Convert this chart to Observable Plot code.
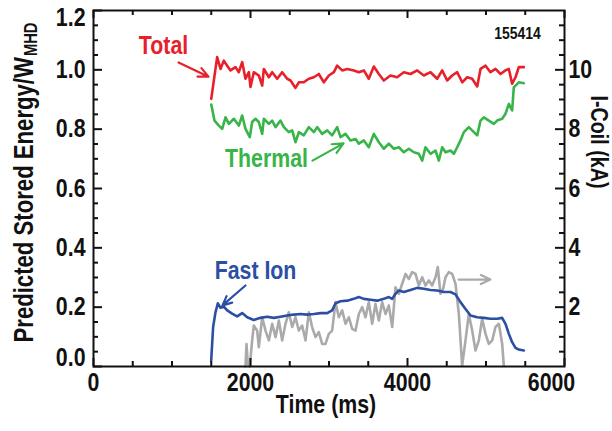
<!DOCTYPE html>
<html><head><meta charset="utf-8">
<script src="https://cdn.jsdelivr.net/npm/d3@7"></script>
<script src="https://cdn.jsdelivr.net/npm/@observablehq/plot@0.6"></script>
<style>
html,body{margin:0;padding:0;background:#fff;}
#chart svg{display:block;}
</style></head><body><div id="chart"></div>
<script>
// ---- data: [time (ms), value] ----
const total = [[1500,0.902],[1575,1.043],[1618,1.003],[1660,1.031],[1703,1.014],[1745,0.998],[1809,1.009],[1851,0.992],[1894,1.026],[1936,0.970],
[1979,0.992],[2000,0.942],[2042,0.992],[2106,0.981],[2149,0.947],[2170,1.003],[2234,0.975],[2276,0.992],[2340,0.970],[2403,0.992],
[2467,0.970],[2510,0.964],[2573,0.939],[2616,0.958],[2679,0.958],[2743,0.970],[2807,0.975],[2870,0.986],[2934,0.958],[2998,0.981],
[3062,0.992],[3104,1.014],[3168,0.998],[3232,1.003],[3316,0.998],[3380,0.992],[3444,0.998],[3507,0.970],[3571,1.011],[3635,0.986],
[3698,0.964],[3783,0.981],[3868,0.975],[3953,0.992],[4038,0.986],[4123,0.998],[4208,0.981],[4293,0.992],[4378,0.970],[4442,0.998],
[4505,0.964],[4569,0.981],[4633,0.992],[4697,0.958],[4760,0.975],[4824,0.970],[4888,0.944],[4930,1.003],[4994,1.014],[5057,0.992],
[5121,1.003],[5185,0.986],[5248,0.998],[5291,1.003],[5333,0.953],[5376,0.975],[5418,1.009],[5482,1.009]];

const thermal = [[1500,0.883],[1541,0.829],[1597,0.812],[1639,0.801],[1682,0.840],[1724,0.818],[1788,0.835],[1851,0.812],[1894,0.846],[1936,0.801],
[1991,0.773],[2021,0.824],[2064,0.835],[2106,0.824],[2149,0.784],[2170,0.835],[2234,0.818],[2276,0.829],[2319,0.807],[2382,0.829],
[2425,0.807],[2488,0.790],[2531,0.796],[2573,0.756],[2616,0.790],[2679,0.779],[2743,0.807],[2807,0.790],[2849,0.807],[2913,0.784],
[2977,0.796],[3040,0.779],[3104,0.807],[3147,0.773],[3210,0.784],[3274,0.762],[3338,0.767],[3380,0.751],[3444,0.762],[3507,0.739],
[3571,0.784],[3635,0.756],[3698,0.734],[3762,0.751],[3826,0.734],[3890,0.739],[3953,0.722],[4017,0.734],[4081,0.722],[4144,0.717],
[4187,0.694],[4229,0.739],[4293,0.717],[4357,0.728],[4399,0.694],[4442,0.739],[4484,0.722],[4548,0.728],[4590,0.717],[4633,0.739],
[4675,0.762],[4718,0.790],[4781,0.807],[4845,0.790],[4888,0.779],[4930,0.829],[4972,0.840],[5036,0.829],[5100,0.818],[5142,0.829],
[5206,0.835],[5248,0.852],[5291,0.885],[5333,0.863],[5354,0.941],[5418,0.958],[5482,0.955]];

const fastIon = [[1499,0.020],[1524,0.133],[1554,0.183],[1584,0.213],[1618,0.198],[1660,0.202],[1703,0.189],[1766,0.178],[1830,0.169],[1894,0.180],
[1958,0.166],[2042,0.157],[2127,0.164],[2212,0.168],[2297,0.164],[2382,0.168],[2467,0.172],[2552,0.175],[2637,0.177],[2722,0.175],
[2807,0.177],[2892,0.180],[2977,0.180],[3040,0.189],[3083,0.213],[3147,0.220],[3232,0.222],[3316,0.228],[3380,0.234],[3444,0.228],
[3529,0.225],[3614,0.222],[3698,0.228],[3762,0.234],[3805,0.228],[3847,0.245],[3890,0.256],[3953,0.251],[4038,0.258],[4123,0.265],
[4208,0.262],[4293,0.258],[4378,0.256],[4463,0.251],[4548,0.251],[4611,0.243],[4675,0.217],[4739,0.194],[4803,0.172],[4888,0.166],
[4972,0.164],[5057,0.161],[5142,0.161],[5206,0.164],[5248,0.144],[5291,0.110],[5333,0.082],[5376,0.063],[5418,0.057],[5482,0.054]];

// I-coil current, kA (right axis)
const iCoil = [[1936,0.0],[1949,0.76],[1966,0.09],[1991,0.0],[2021,0.88],[2042,1.38],[2085,1.21],[2106,0.65],[2149,1.66],[2191,1.21],
[2234,0.88],[2276,1.44],[2319,0.99],[2361,1.55],[2403,0.88],[2446,1.44],[2488,1.83],[2531,1.33],[2573,1.66],[2616,1.21],
[2658,1.38],[2701,0.88],[2743,1.83],[2785,1.33],[2828,0.99],[2870,1.16],[2913,0.76],[2955,0.76],[2998,1.10],[3040,1.21],
[3083,2.17],[3125,1.66],[3168,1.89],[3210,1.44],[3253,1.66],[3295,1.27],[3338,1.21],[3380,1.77],[3423,2.00],[3465,1.66],
[3507,2.17],[3550,1.44],[3592,2.11],[3635,1.55],[3677,2.17],[3720,1.77],[3762,2.06],[3805,1.33],[3847,2.67],[3890,2.45],
[3932,2.79],[3975,3.12],[4017,2.95],[4059,3.18],[4102,3.12],[4144,2.73],[4187,3.01],[4229,2.73],[4272,2.90],[4314,2.73],
[4357,3.01],[4386,3.35],[4420,2.45],[4454,2.62],[4484,3.01],[4526,3.18],[4569,3.12],[4611,2.79],[4654,1.77],[4696,0.03],
[4739,0.88],[4781,1.77],[4824,1.21],[4866,0.54],[4909,0.88],[4951,1.61],[4994,1.10],[5036,0.76],[5079,0.88],[5121,1.33],
[5164,1.44],[5206,0.76],[5227,0.03]];

// ---- ticks ----
const timeTicks = [0, 2000, 4000, 6000];
const timeMinorTicks = [500, 1000, 1500, 2500, 3000, 3500, 4500, 5000, 5500];
const energyTicks = [0, 0.2, 0.4, 0.6, 0.8, 1.0, 1.2];
const energyMinorTicks = [0.05,0.1,0.15,0.25,0.3,0.35,0.45,0.5,0.55,0.65,0.7,0.75,0.85,0.9,0.95,1.05,1.1,1.15];
const iCoilTicks = [2, 4, 6, 8, 10];
const iCoilMinorTicks = [0.5,1,1.5,2.5,3,3.5,4.5,5,5.5,6.5,7,7.5,8.5,9,9.5,10.5,11,11.5];

// ---- annotations ----
const seriesLabels = [
  {text: "Total", t: 892, v: 1.082, color: "#e8202a"},
  {text: "Thermal", t: 2204, v: 0.701, color: "#38b449"},
  {text: "Fast Ion", t: 2064, v: 0.324, color: "#2c4fa3"}
];
const arrows = [
  {t1: 1083, v1: 1.025, t2: 1465, v2: 0.977, color: "#e8202a"},
  {t1: 2790, v1: 0.694, t2: 3185, v2: 0.752, color: "#38b449"},
  {t1: 1936, v1: 0.273, t2: 1643, v2: 0.206, color: "#2c4fa3"},
  {t1: 4650, v1: 0.293, t2: 5057, v2: 0.293, color: "#aaaaaa"}
];
const shotLabel = [{text: "155414", t: 5401, v: 1.122}];

const W = 612, H = 431, ML = 93, MR = 48, MT = 10, MB = 65;
const innerW = W - ML - MR, innerH = H - MT - MB;
const FONT = "'Liberation Sans',Arial,sans-serif";
const NARROW = 0.82; // emulate a narrow (condensed) Helvetica
function textWidth(txt, size) {
  const ctx = document.createElement("canvas").getContext("2d");
  ctx.font = `bold ${size}px ${FONT}`;
  return ctx.measureText(txt).width * NARROW;
}
const yTitle = "Predicted Stored Energy/W";
const yTitleSize = 27;
const yTitleW = textWidth(yTitle, yTitleSize);

const ink = "#111";
const tk = {stroke: ink, strokeWidth: 2};
const lbl = {label: null, tickSize: 0, fontSize: 26};

const chart = Plot.plot({
  width: W, height: H,
  marginLeft: ML, marginRight: MR, marginTop: MT, marginBottom: MB,
  x: {domain: [0, 6000]},
  y: {domain: [0, 1.2]},
  style: {fontFamily: FONT, fontWeight: "bold", fontSize: "26px", color: ink, background: "#fff"},
  marks: [
    Plot.line(iCoil, {x: d => d[0], y: d => d[1] / 10, stroke: "#aaaaaa", strokeWidth: 2.6}),
    Plot.line(total, {x: d => d[0], y: d => d[1], stroke: "#e8202a", strokeWidth: 2.6}),
    Plot.line(thermal, {x: d => d[0], y: d => d[1], stroke: "#38b449", strokeWidth: 2.6}),
    Plot.line(fastIon, {x: d => d[0], y: d => d[1], stroke: "#2c4fa3", strokeWidth: 2.6}),
    Plot.arrow(arrows, {x1: "t1", y1: "v1", x2: "t2", y2: "v2", stroke: "color", strokeWidth: 2.2, headLength: 10, headAngle: 50}),
    Plot.text(seriesLabels, {x: "t", y: "v", text: "text", fill: "color", fontSize: 26, fontWeight: "bold"}),
    Plot.text(shotLabel, {x: "t", y: "v", text: "text", fill: ink, fontSize: 17, fontWeight: "bold"}),
    // inward ticks: bottom / top
    Plot.tickX(timeTicks, {x: d => d, insetTop: innerH - 8, ...tk}),
    Plot.tickX(timeMinorTicks, {x: d => d, insetTop: innerH - 5, ...tk}),
    Plot.tickX(timeTicks, {x: d => d, insetBottom: innerH - 8, ...tk}),
    Plot.tickX(timeMinorTicks, {x: d => d, insetBottom: innerH - 5, ...tk}),
    // inward ticks: left (energy) / right (I-coil kA)
    Plot.tickY(energyTicks, {y: d => d, insetRight: innerW - 9, ...tk}),
    Plot.tickY(energyMinorTicks, {y: d => d, insetRight: innerW - 5, ...tk}),
    Plot.tickY(iCoilTicks, {y: d => d / 10, insetLeft: innerW - 9, ...tk}),
    Plot.tickY(iCoilMinorTicks, {y: d => d / 10, insetLeft: innerW - 5, ...tk}),
    // tick labels
    Plot.axisX(timeTicks.slice(0, 3), {anchor: "bottom", tickPadding: 6, tickFormat: d => String(d), ...lbl}),
    Plot.axisX(timeTicks.slice(3), {anchor: "bottom", tickPadding: 6, dx: -13, tickFormat: d => String(d), ...lbl}),
    Plot.axisY(energyTicks.slice(1, 6), {anchor: "left", tickPadding: 8, tickFormat: d => d.toFixed(1), ...lbl}),
    Plot.axisY(energyTicks.slice(0, 1), {anchor: "left", tickPadding: 8, dy: -9, tickFormat: d => d.toFixed(1), ...lbl}),
    Plot.axisY(energyTicks.slice(6), {anchor: "left", tickPadding: 8, dy: 7, tickFormat: d => d.toFixed(1), ...lbl}),
    Plot.axisY(iCoilTicks.map(k => k / 10), {anchor: "right", tickPadding: 4, tickFormat: d => String(Math.round(d * 10)), ...lbl}),
    Plot.frame({stroke: ink, strokeWidth: 2}),
    // axis titles
    Plot.text(["Time (ms)"], {frameAnchor: "bottom", dy: 46, dx: -3, fontSize: 26, fontWeight: "bold", fill: ink}),
    Plot.text([yTitle], {frameAnchor: "left", dx: -69, dy: 154, rotate: -90, textAnchor: "start", fontSize: yTitleSize, fontWeight: "bold", fill: ink}),
    Plot.text(["MHD"], {frameAnchor: "left", dx: -62, dy: 154 - yTitleW - 1, rotate: -90, textAnchor: "start", fontSize: 18, fontWeight: "bold", fill: ink}),
    Plot.text(["I-Coil (kA)"], {frameAnchor: "right", dx: 34, rotate: 90, fontSize: 24, fontWeight: "bold", fill: ink})
  ]
});
document.getElementById("chart").appendChild(chart);
// condense every label horizontally (narrow Helvetica look)
chart.querySelectorAll("text").forEach(t => {
  const len = t.getComputedTextLength();
  if (len > 0) {
    t.setAttribute("textLength", (len * NARROW).toFixed(2));
    t.setAttribute("lengthAdjust", "spacingAndGlyphs");
  }
});
</script>
</body></html>
